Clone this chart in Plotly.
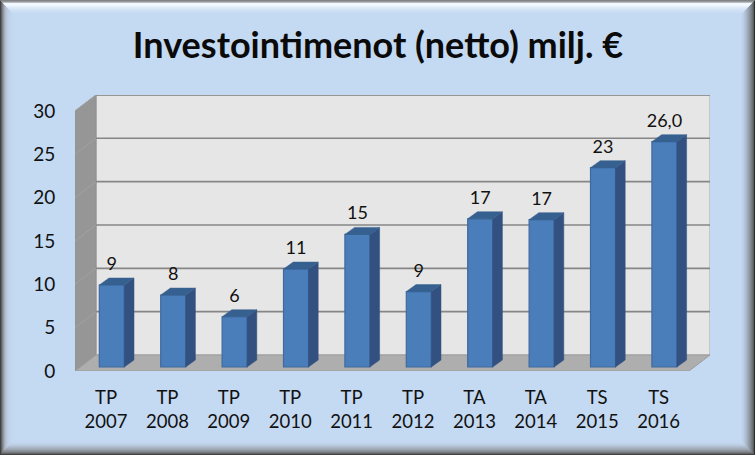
import plotly.graph_objects as go

# ---- data ----
categories = ["TP<br>2007", "TP<br>2008", "TP<br>2009", "TP<br>2010", "TP<br>2011",
              "TP<br>2012", "TA<br>2013", "TA<br>2014", "TS<br>2015", "TS<br>2016"]
values = [9.46, 8.3, 5.8, 11.3, 15.3, 8.7, 17.1, 17.0, 23.0, 26.0]
labels = ["9", "8", "6", "11", "15", "9", "17", "17", "23", "26,0"]
y_ticks = [0, 5, 10, 15, 20, 25, 30]
title = "Investointimenot (netto) milj. €"

W, H = 755, 455
# plot box in pixels
L, R, T, B = 75, 710, 95, 371
PX_PER_Y = 8.667
PX_PER_X = 61.4
X0_PX = 111.8           # bar 0 front-centre pixel
xr = [(L - X0_PX) / PX_PER_X, (R - X0_PX) / PX_PER_X]
yr = [0, (B - T) / PX_PER_Y]

# oblique projection offsets, data units
WALL_DX, WALL_DY = 21 / PX_PER_X, 16 / PX_PER_Y
BAR_DX, BAR_DY = 9.7 / PX_PER_X, 7 / PX_PER_Y
BAR_LIFT = 4 / PX_PER_Y
BAR_W = 25 / PX_PER_X
TICK_SHIFT = -5.8 / PX_PER_X
LABEL_GAP = 19.5 / PX_PER_Y

x_pos = list(range(len(values)))
xmin, xmax = xr

WALL, GRID, SIDE_WALL, FLOOR = "#E6E6E6", "#868686", "#969696", "#AEAEAE"
BAR_FACE, BAR_EDGE, BAR_SIDE, BAR_TOP = "#4A7EBB", "#3F6A9E", "#325180", "#36608F"
BG = "#C4D9F2"


def poly(pts, fill, line=None, lw=1):
    path = "M" + " L".join(f"{x},{y}" for x, y in pts) + " Z"
    return dict(type="path", path=path, xref="x", yref="y", fillcolor=fill, layer="below",
                line=dict(color=line or fill, width=lw))


shapes = []
# back wall, side wall, floor
shapes.append(poly([(xmin + WALL_DX, WALL_DY), (xmax, WALL_DY), (xmax, yr[1]), (xmin + WALL_DX, yr[1])], WALL, "#A6A6A6", 1))
shapes.append(poly([(xmin, 0), (xmin + WALL_DX, WALL_DY), (xmin + WALL_DX, yr[1]), (xmin, 30)], SIDE_WALL, "#909090", 1))
shapes.append(poly([(xmin, 0), (xmin + WALL_DX, WALL_DY), (xmax, WALL_DY), (xmax - WALL_DX, 0)], FLOOR, "#9C9C9C", 1))
# gridlines on the wall
for t in y_ticks[1:]:
    shapes.append(dict(type="line", xref="x", yref="y", layer="below", x0=xmin + WALL_DX, x1=xmax,
                       y0=t + WALL_DY, y1=t + WALL_DY, line=dict(color=GRID, width=1.6)))
    shapes.append(dict(type="line", xref="x", yref="y", layer="below", x0=xmin, x1=xmin + WALL_DX,
                       y0=t, y1=t + WALL_DY, line=dict(color="#A2A2A2", width=1)))


# bevel frame: shape paths with paper refs are relative to the plot box
def px(x, y):
    return (x - L) / (R - L), (B - y) / (B - T)


def strip(i, side, color):
    a, b = i, i + 1
    if side == "top":
        pts = [(a, a), (W - a, a), (W - b, b), (b, b)]
    elif side == "bottom":
        pts = [(a, H - a), (W - a, H - a), (W - b, H - b), (b, H - b)]
    elif side == "left":
        pts = [(a, a), (b, b), (b, H - b), (a, H - a)]
    else:
        pts = [(W - a, a), (W - b, b), (W - b, H - b), (W - a, H - a)]
    path = "M" + " L".join("{:.5f},{:.5f}".format(*px(*p)) for p in pts) + " Z"
    return dict(type="path", path=path, xref="paper", yref="paper", fillcolor=color, layer="above",
                line=dict(color=color, width=0.5))


top_cols = ["#7F7F7F", "#8F9296", "#A9ACB0", "#EEF6FE", "#F6FBFF", "#F0F7FE", "#E8F2FC", "#E1EDFA", "#DBE9F8",
            "#D5E5F7", "#D0E2F6", "#CCDFF5", "#C9DDF4", "#C6DBF3"]
left_cols = ["#3C3C3C", "#5A5C5F", "#777B80", "#8F959D", "#A2ABB6", "#AFBBCA", "#B7C5D7", "#BCCBE0",
             "#BFD0E6", "#C1D3EA", "#C2D5ED", "#C3D7EF", "#C4D8F1"]
right_cols = ["#222222", "#55585C", "#6A6E73", "#777C83", "#828891", "#8C949F", "#96A0AD", "#9FAABA", "#A8B5C6",
              "#AFBED1", "#B6C5DB", "#BBCCE3", "#BFD2EA", "#C2D6EF"]
bottom_cols = ["#3A3A3A", "#5E6063", "#74777C", "#82868D", "#8E949C", "#98A0AB", "#A2ACB9", "#ABB6C6", "#B2BFD1",
               "#B8C7DB", "#BDCEE3", "#C0D2EA", "#C2D6EF", "#C4D8F1"]
for side, cols in (("left", left_cols), ("right", right_cols), ("bottom", bottom_cols), ("top", top_cols)):
    for i, c in enumerate(cols):
        shapes.append(strip(i, side, c))

fig = go.Figure()

# bar front faces
fig.add_trace(go.Bar(x=x_pos, y=values, base=[BAR_LIFT] * len(values), width=BAR_W,
                     marker=dict(color=BAR_FACE, line=dict(color=BAR_EDGE, width=1.2)),
                     showlegend=False, hoverinfo="skip"))

# bar side and top faces
side_x, side_y, top_x, top_y = [], [], [], []
for x, v in zip(x_pos, values):
    xr_ = x + BAR_W / 2
    xl_ = x - BAR_W / 2
    ytop = v + BAR_LIFT
    side_x += [xr_, xr_ + BAR_DX, xr_ + BAR_DX, xr_, xr_, None]
    side_y += [BAR_LIFT, BAR_LIFT + BAR_DY, ytop + BAR_DY, ytop, BAR_LIFT, None]
    top_x += [xl_, xl_ + BAR_DX, xr_ + BAR_DX, xr_, xl_, None]
    top_y += [ytop, ytop + BAR_DY, ytop + BAR_DY, ytop, ytop, None]
fig.add_trace(go.Scatter(x=side_x, y=side_y, mode="lines", fill="toself", fillcolor=BAR_SIDE,
                         line=dict(color=BAR_SIDE, width=0.5), showlegend=False, hoverinfo="skip"))
fig.add_trace(go.Scatter(x=top_x, y=top_y, mode="lines", fill="toself", fillcolor=BAR_TOP,
                         line=dict(color=BAR_TOP, width=0.5), showlegend=False, hoverinfo="skip"))

# data labels
fig.add_trace(go.Scatter(x=x_pos, y=[v + BAR_LIFT + LABEL_GAP for v in values], mode="text", text=labels,
                         textposition="middle center", textfont=dict(family="Lato", size=18, color="#111111"),
                         showlegend=False, hoverinfo="skip", cliponaxis=False))

fig.update_layout(
    width=W, height=H, autosize=False,
    margin=dict(l=L, r=W - R, t=T, b=H - B, pad=0),
    paper_bgcolor=BG, plot_bgcolor="rgba(0,0,0,0)",
    shapes=shapes, showlegend=False,
    title=dict(text=f"<b>{title}</b>", x=378 / W, xanchor="center", y=1 - 45 / H, yanchor="middle",
               font=dict(family="Lato", size=36, color="#0A0A0A")),
    xaxis=dict(range=xr, tickmode="array", tickvals=[x + TICK_SHIFT for x in x_pos], ticktext=categories,
               showgrid=False, zeroline=False, showline=False, ticks="outside", ticklen=10,
               tickcolor="rgba(0,0,0,0)", tickfont=dict(family="Lato", size=18.5, color="#111111")),
    yaxis=dict(range=yr, tickmode="array", tickvals=y_ticks, ticktext=[str(t) for t in y_ticks],
               showgrid=False, zeroline=False, showline=False, ticks="outside", ticklen=15,
               tickcolor="rgba(0,0,0,0)", tickfont=dict(family="Lato", size=19, color="#111111")),
)

fig.write_html("out.html", config={"displayModeBar": False},
               post_script="document.body.style.margin='0';document.documentElement.style.overflow='hidden';")
